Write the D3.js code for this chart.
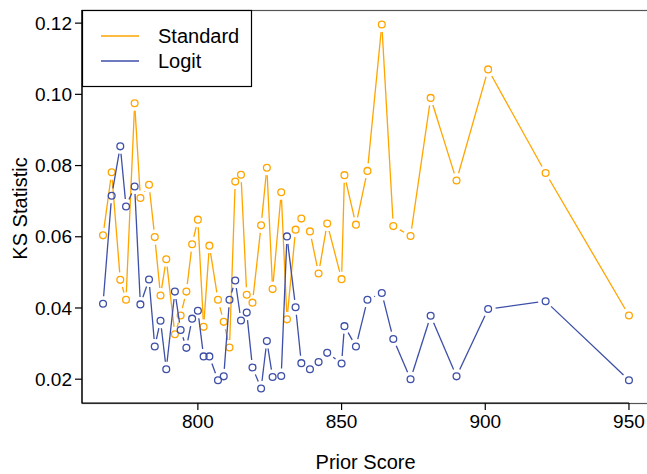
<!DOCTYPE html>
<html>
<head>
<meta charset="utf-8">
<script src="https://cdn.jsdelivr.net/npm/d3@7"></script>
<style>
  html, body { margin: 0; padding: 0; background: #fff; }
  svg { display: block; font-family: "Liberation Sans", Arial, sans-serif; }
</style>
</head>
<body>
<div id="chart"></div>
<script>
const priorScore = [767, 770, 773, 775, 778, 780, 783, 785, 787, 789, 792, 794, 796, 798, 800,
    802, 804, 807, 809, 811, 813, 815, 817, 819, 822, 824, 826, 829, 831, 834, 836, 839, 842,
    845, 850, 851, 855, 859, 864, 868, 874, 881, 890, 901, 921, 950];

const standardKS = [0.0604, 0.0781, 0.0479, 0.0423, 0.0975, 0.0709, 0.0746, 0.0599, 0.0435,
    0.0537, 0.0326, 0.0379, 0.0446, 0.0579, 0.0648, 0.0347, 0.0575, 0.0423, 0.0361, 0.0289,
    0.0755, 0.0774, 0.0437, 0.0415, 0.0632, 0.0794, 0.0453, 0.0725, 0.0368, 0.0620, 0.0651,
    0.0615, 0.0497, 0.0637, 0.0481, 0.0773, 0.0634, 0.0785, 0.1196, 0.0630, 0.0602, 0.0990,
    0.0758, 0.1070, 0.0779, 0.0379];

const logitKS = [0.0412, 0.0715, 0.0854, 0.0685, 0.0741, 0.0410, 0.0480, 0.0292, 0.0364,
    0.0228, 0.0446, 0.0338, 0.0288, 0.0370, 0.0392, 0.0264, 0.0264, 0.0197, 0.0208, 0.0423,
    0.0477, 0.0365, 0.0387, 0.0233, 0.0174, 0.0307, 0.0206, 0.0209, 0.0601, 0.0402, 0.0245,
    0.0228, 0.0248, 0.0274, 0.0244, 0.0349, 0.0292, 0.0423, 0.0442, 0.0313, 0.0200, 0.0378,
    0.0208, 0.0397, 0.0419, 0.0197];

const xTicks = [800, 850, 900, 950];
const yTicks = [0.02, 0.04, 0.06, 0.08, 0.10, 0.12];

const seriesNames = ["Standard", "Logit"];
const seriesColors = ["#FFA500", "#3D4FA8"];

const W = 647, H = 474;
const PLOT = { left: 82, right: 650, top: 10, bottom: 403 };
const GAP = 7.5;   // line gap around each point, like R type="b"

// R-style 4% axis extension
function padded(ext) {
    const p = (ext[1] - ext[0]) * 0.04;
    return [ext[0] - p, ext[1] + p];
}

const svg = d3.select("#chart").append("svg")
    .attr("width", W)
    .attr("height", H);

const x = d3.scaleLinear()
    .domain(padded(d3.extent(priorScore)))
    .range([PLOT.left, PLOT.right]);

const y = d3.scaleLinear()
    .domain(padded(d3.extent(standardKS.concat(logitKS))))
    .range([PLOT.bottom, PLOT.top]);

// box
svg.append("rect")
    .attr("x", PLOT.left)
    .attr("y", PLOT.top + 0.5)
    .attr("width", PLOT.right - PLOT.left)
    .attr("height", PLOT.bottom - PLOT.top)
    .attr("fill", "none")
    .attr("stroke", "#555")
    .attr("stroke-width", 1.2);

// x axis
const gx = svg.append("g").attr("transform", `translate(0,${PLOT.bottom})`);
gx.append("line")
    .attr("x1", PLOT.left).attr("x2", x(xTicks[xTicks.length - 1]))
    .attr("stroke", "#000").attr("stroke-width", 1.2);
gx.selectAll("g.tick")
    .data(xTicks)
    .join("g")
    .attr("class", "tick")
    .attr("transform", d => `translate(${x(d)},0)`)
    .call(g => g.append("line").attr("y2", 7).attr("stroke", "#000").attr("stroke-width", 1.2))
    .call(g => g.append("text")
        .attr("y", 25)
        .attr("text-anchor", "middle")
        .attr("font-size", 19)
        .attr("fill", "#000")
        .text(d => d));

svg.append("text")
    .attr("x", x(850) + 24)
    .attr("y", 469)
    .attr("text-anchor", "middle")
    .attr("font-size", 20)
    .text("Prior Score");

// y axis
const gy = svg.append("g").attr("transform", `translate(${PLOT.left},0)`);
gy.append("line")
    .attr("y1", PLOT.top).attr("y2", PLOT.bottom)
    .attr("stroke", "#000").attr("stroke-width", 1.2);
gy.selectAll("g.tick")
    .data(yTicks)
    .join("g")
    .attr("class", "tick")
    .attr("transform", d => `translate(0,${y(d)})`)
    .call(g => g.append("line").attr("x2", -7).attr("stroke", "#000").attr("stroke-width", 1.2))
    .call(g => g.append("text")
        .attr("x", -10)
        .attr("dy", "0.35em")
        .attr("text-anchor", "end")
        .attr("font-size", 19)
        .attr("fill", "#000")
        .text(d => d.toFixed(2)));

svg.append("text")
    .attr("transform", `translate(27,${(PLOT.top + PLOT.bottom) / 2 + 2}) rotate(-90)`)
    .attr("text-anchor", "middle")
    .attr("font-size", 20)
    .text("KS Statistic");

// series: segments broken around each point, then hollow circles
const series = [standardKS, logitKS];
const plotG = svg.append("g");

series.forEach((vals, si) => {
    const pts = vals.map((v, i) => [x(priorScore[i]), y(v)]);
    const segs = [];
    for (let i = 1; i < pts.length; i++) {
        const [x0, y0] = pts[i - 1];
        const [x1, y1] = pts[i];
        const len = Math.hypot(x1 - x0, y1 - y0);
        if (len <= 2 * GAP) continue;
        const ux = (x1 - x0) / len, uy = (y1 - y0) / len;
        segs.push([[x0 + ux * GAP, y0 + uy * GAP], [x1 - ux * GAP, y1 - uy * GAP]]);
    }
    plotG.append("g")
        .selectAll("path")
        .data(segs)
        .join("path")
        .attr("d", d => d3.line()(d))
        .attr("stroke", seriesColors[si])
        .attr("stroke-width", 1.3)
        .attr("fill", "none");
    plotG.append("g")
        .selectAll("circle")
        .data(pts)
        .join("circle")
        .attr("cx", d => d[0])
        .attr("cy", d => d[1])
        .attr("r", 3.4)
        .attr("fill", "none")
        .attr("stroke", seriesColors[si])
        .attr("stroke-width", 1.3);
});

// legend
const legend = svg.append("g").attr("transform", `translate(${PLOT.left},${PLOT.top})`);
legend.append("rect")
    .attr("x", 0.5).attr("y", 0.5)
    .attr("width", 169).attr("height", 76)
    .attr("fill", "#fff")
    .attr("stroke", "#000")
    .attr("stroke-width", 1.2);
legend.selectAll("g.item")
    .data(seriesNames)
    .join("g")
    .attr("class", "item")
    .attr("transform", (d, i) => `translate(0,${26 + i * 25})`)
    .call(g => g.append("line")
        .attr("x1", 19).attr("x2", 57)
        .attr("stroke", (d, i) => seriesColors[i])
        .attr("stroke-width", 1.3))
    .call(g => g.append("text")
        .attr("x", 76)
        .attr("dy", "0.35em")
        .attr("font-size", 20)
        .text(d => d));
</script>
</body>
</html>
